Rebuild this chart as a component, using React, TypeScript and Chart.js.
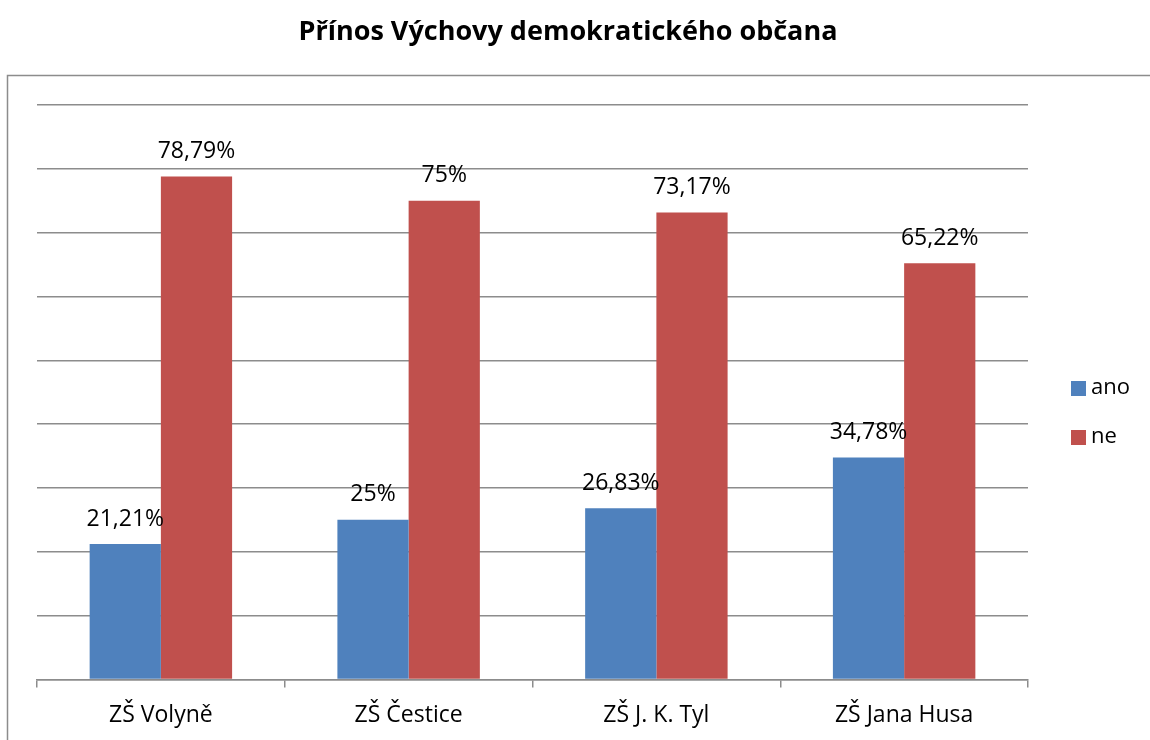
import React, { useEffect, useRef } from "react";
import { Chart, registerables } from "chart.js";

Chart.register(...registerables);

const categories = ["ZŠ Volyně", "ZŠ Čestice", "ZŠ J. K. Tyl", "ZŠ Jana Husa"];
const anoValues = [21.21, 25, 26.83, 34.78];
const neValues = [78.79, 75, 73.17, 65.22];
const seriesNames = ["ano", "ne"];
const seriesColors = ["#4F81BD", "#C0504D"];
const titleText = "Přínos Výchovy demokratického občana";
const FONT = "'Open Sans', Lato, sans-serif";

const fmt = (v: number) => v.toString().replace(".", ",") + "%";

const decorPlugin = {
  id: "decor",
  beforeDraw(chart: any) {
    const ctx = chart.ctx;
    ctx.save();
    ctx.fillStyle = "#ffffff";
    ctx.fillRect(0, 0, chart.width, chart.height);
    ctx.strokeStyle = "#8c8c8c";
    ctx.lineWidth = 1.5;
    ctx.beginPath();
    ctx.moveTo(7.5, chart.height + 5);
    ctx.lineTo(7.5, 75.5);
    ctx.lineTo(chart.width + 5, 75.5);
    ctx.stroke();
    ctx.fillStyle = "#000";
    ctx.font = `bold 27px ${FONT}`;
    ctx.textAlign = "center";
    ctx.textBaseline = "middle";
    ctx.fillText(titleText, 568, 32);
    ctx.restore();
  },
  afterDatasetsDraw(chart: any) {
    const ctx = chart.ctx;
    ctx.save();
    ctx.fillStyle = "#000";
    ctx.font = `23px ${FONT}`;
    ctx.textAlign = "center";
    ctx.textBaseline = "middle";
    chart.data.datasets.forEach((ds: any, di: number) => {
      const meta = chart.getDatasetMeta(di);
      meta.data.forEach((bar: any, i: number) => {
        ctx.fillText(fmt(ds.data[i]), bar.x, bar.y - 25);
      });
    });
    // legend
    ctx.font = `22px ${FONT}`;
    seriesNames.forEach((name, i) => {
      const y = 388 + i * 49;
      ctx.fillStyle = seriesColors[i];
      ctx.fillRect(1071, y - 7, 15, 15);
      ctx.fillStyle = "#000";
      ctx.textAlign = "left";
      ctx.fillText(name, 1091, y);
    });
    ctx.restore();
  },
};

export default function App() {
  const ref = useRef<HTMLCanvasElement>(null);
  useEffect(() => {
    const chart = new Chart(ref.current!, {
      type: "bar",
      data: {
        labels: categories,
        datasets: [
          { label: seriesNames[0], data: anoValues, backgroundColor: seriesColors[0] },
          { label: seriesNames[1], data: neValues, backgroundColor: seriesColors[1] },
        ],
      },
      options: {
        animation: false,
        responsive: false,
        devicePixelRatio: 1,
        layout: { padding: { left: 37, right: 122, top: 105, bottom: 0 } },
        plugins: { legend: { display: false }, tooltip: { enabled: false }, title: { display: false } },
        datasets: { bar: { categoryPercentage: 0.575, barPercentage: 1 } } as any,
        scales: {
          x: {
            offset: true,
            grid: { drawOnChartArea: false, drawTicks: true, tickLength: 8, color: "#8c8c8c", lineWidth: 1.5, offset: true },
            border: { display: true, color: "#8c8c8c", width: 1.5 },
            ticks: { color: "#000", font: { family: FONT, size: 23 }, padding: 14 },
          },
          y: {
            min: 0,
            max: 90,
            ticks: { display: false, stepSize: 10 },
            grid: { color: "#8c8c8c", lineWidth: 1.5, drawTicks: false },
            border: { display: false },
          },
        },
      },
      plugins: [decorPlugin],
    });
    return () => chart.destroy();
  }, []);
  return (
    <div style={{ position: "fixed", left: 0, top: 0, width: 1150, height: 740, overflow: "hidden", background: "#fff" }}>
      <canvas ref={ref} width={1150} height={743} style={{ display: "block" }} />
    </div>
  );
}
